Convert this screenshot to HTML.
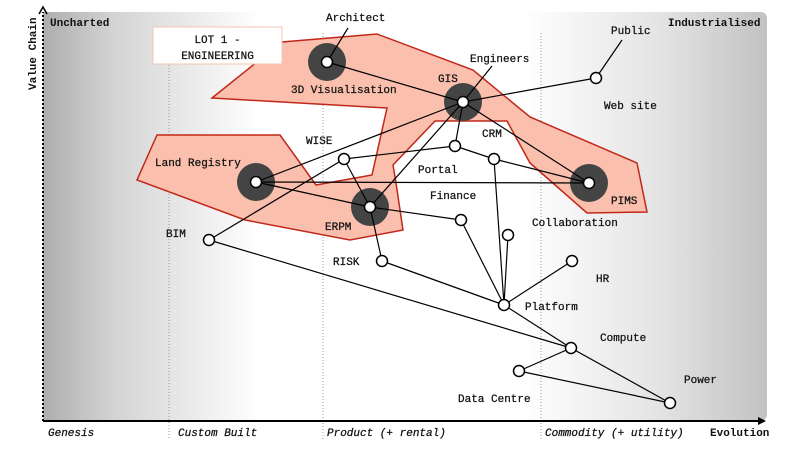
<!DOCTYPE html>
<html><head><meta charset="utf-8"><style>
html,body{margin:0;padding:0;background:#fff;}
svg{display:block;}
text{font-family:"Liberation Mono",monospace;font-size:11px;fill:#111;stroke:#111;stroke-width:0.25px;}
.b{font-weight:bold;stroke:none;}
.i{font-style:italic;}
</style></head><body>
<svg width="800" height="450" viewBox="0 0 800 450" xmlns="http://www.w3.org/2000/svg">
<defs>
<linearGradient id="g" x1="0" x2="1" y1="0" y2="0">
<stop offset="0" stop-color="#aeaeae"/>
<stop offset="0.1" stop-color="#d4d4d4"/>
<stop offset="0.3" stop-color="#ffffff"/>
<stop offset="0.66" stop-color="#ffffff"/>
<stop offset="0.85" stop-color="#e4e4e4"/>
<stop offset="1" stop-color="#c2c2c2"/>
</linearGradient>
</defs>
<path d="M43 12 H760 Q767 12 767 19 V413 Q767 421 760 421 H43 Z" fill="url(#g)"/>
<g stroke="#999" stroke-width="1" stroke-dasharray="1,2">
<line x1="169" y1="35" x2="169" y2="440"/>
<line x1="323" y1="33" x2="323" y2="440"/>
<line x1="541" y1="33" x2="541" y2="440"/>
</g>
<line x1="43" y1="421" x2="43" y2="12" stroke="#000" stroke-width="2" stroke-dasharray="2,2"/>
<path d="M39 14 L43 7 L47 14" fill="none" stroke="#000" stroke-width="1.5"/>
<line x1="43" y1="421" x2="760" y2="421" stroke="#000" stroke-width="2"/>
<path d="M758 417 L766 421 L758 425 Z" fill="#000"/>
<text x="36" y="90" class="b" transform="rotate(-90 36 90)" font-size="10">Value Chain</text>
<text x="50" y="26" class="b" font-size="10">Uncharted</text>
<text x="668" y="26" class="b" font-size="10">Industrialised</text>
<text x="48" y="436" class="i">Genesis</text>
<text x="178" y="436" class="i">Custom Built</text>
<text x="327" y="436" class="i">Product (+ rental)</text>
<text x="545" y="436" class="i">Commodity (+ utility)</text>
<text x="710" y="436" class="b" font-size="8.5">Evolution</text>
<polygon points="212,98 282,42 377,34 473,70 530,117 637,163 647,212 587,213 530,163 507,121 435,121 393,165 396,183 403,230 350,240 245,220 137,180 157,135 280,135 316,185 372,175 387,108" fill="#fbbfae" stroke="#c0281a" stroke-width="1.5" stroke-linejoin="miter"/>
<rect x="153" y="27" width="129" height="37" fill="#fff" stroke="#f3c4b6" stroke-width="1"/>
<text x="217.5" y="43" text-anchor="middle" font-size="14">LOT 1 -</text>
<text x="217.5" y="59" text-anchor="middle" font-size="14">ENGINEERING</text>
<g fill="#444">
<circle cx="327" cy="62" r="19"/>
<circle cx="463" cy="102" r="19"/>
<circle cx="256" cy="182" r="19"/>
<circle cx="370" cy="207" r="19"/>
<circle cx="589" cy="183" r="19"/>
</g>
<g stroke="#000" stroke-width="1.2" fill="none">
<line x1="348" y1="28" x2="327" y2="62"/>
<line x1="492" y1="66" x2="463" y2="102"/>
<line x1="622" y1="40" x2="596" y2="78"/>
<line x1="327" y1="62" x2="463" y2="102"/>
<line x1="463" y1="102" x2="596" y2="78"/>
<line x1="463" y1="102" x2="256" y2="182"/>
<line x1="463" y1="102" x2="589" y2="183"/>
<line x1="463" y1="102" x2="370" y2="207"/>
<line x1="463" y1="102" x2="455" y2="146"/>
<line x1="209" y1="240" x2="344" y2="159"/>
<line x1="344" y1="159" x2="455" y2="146"/>
<line x1="344" y1="159" x2="370" y2="207"/>
<line x1="256" y1="182" x2="370" y2="207"/>
<line x1="256" y1="182" x2="589" y2="183"/>
<line x1="370" y1="207" x2="461" y2="220"/>
<line x1="370" y1="207" x2="382" y2="261"/>
<line x1="455" y1="146" x2="494" y2="159"/>
<line x1="494" y1="159" x2="589" y2="183"/>
<line x1="494" y1="159" x2="504" y2="305"/>
<line x1="461" y1="220" x2="504" y2="305"/>
<line x1="508" y1="235" x2="504" y2="305"/>
<line x1="572" y1="261" x2="504" y2="305"/>
<line x1="382" y1="261" x2="504" y2="305"/>
<line x1="504" y1="305" x2="571" y2="348"/>
<line x1="209" y1="240" x2="571" y2="348"/>
<line x1="571" y1="348" x2="519" y2="371"/>
<line x1="519" y1="371" x2="670" y2="403"/>
<line x1="571" y1="348" x2="670" y2="403"/>
</g>
<g fill="#fff" stroke="#000" stroke-width="1.5">
<circle cx="327" cy="62" r="5.5"/>
<circle cx="463" cy="102" r="5.5"/>
<circle cx="256" cy="182" r="5.5"/>
<circle cx="370" cy="207" r="5.5"/>
<circle cx="589" cy="183" r="5.5"/>
<circle cx="596" cy="78" r="5.5"/>
<circle cx="344" cy="159" r="5.5"/>
<circle cx="455" cy="146" r="5.5"/>
<circle cx="494" cy="159" r="5.5"/>
<circle cx="461" cy="220" r="5.5"/>
<circle cx="508" cy="235" r="5.5"/>
<circle cx="382" cy="261" r="5.5"/>
<circle cx="209" cy="240" r="5.5"/>
<circle cx="572" cy="261" r="5.5"/>
<circle cx="504" cy="305" r="5.5"/>
<circle cx="571" cy="348" r="5.5"/>
<circle cx="519" cy="371" r="5.5"/>
<circle cx="670" cy="403" r="5.5"/>
</g>
<text x="326" y="21">Architect</text>
<text x="470" y="62">Engineers</text>
<text x="611" y="34">Public</text>
<text x="604" y="109">Web site</text>
<text x="291" y="93">3D Visualisation</text>
<text x="438" y="82">GIS</text>
<text x="482" y="137">CRM</text>
<text x="306" y="144">WISE</text>
<text x="155" y="166">Land Registry</text>
<text x="418" y="173">Portal</text>
<text x="430" y="199">Finance</text>
<text x="611" y="204">PIMS</text>
<text x="325" y="230">ERPM</text>
<text x="532" y="226">Collaboration</text>
<text x="166" y="237">BIM</text>
<text x="333" y="265">RISK</text>
<text x="596" y="282">HR</text>
<text x="525" y="310">Platform</text>
<text x="600" y="341">Compute</text>
<text x="684" y="383">Power</text>
<text x="458" y="402">Data Centre</text>
</svg>
</body></html>
